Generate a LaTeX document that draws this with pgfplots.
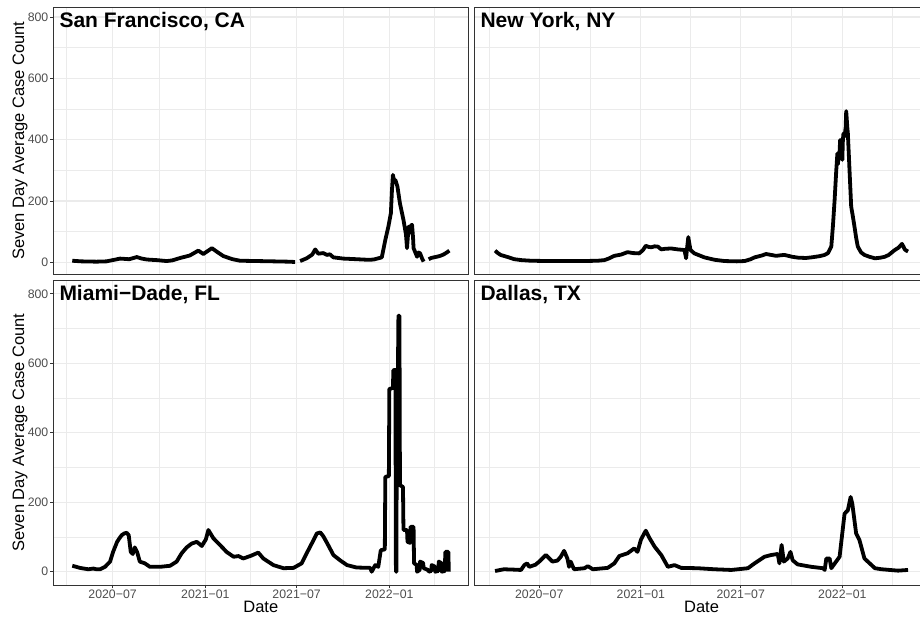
\documentclass[border=0pt]{standalone}
\usepackage{fontspec}
\setmainfont{Liberation Sans}
\usepackage{pgfplots}
\pgfplotsset{compat=1.18}
\definecolor{gridc}{HTML}{EBEBEB}
\definecolor{framec}{HTML}{333333}
\definecolor{ticklab}{HTML}{4D4D4D}
\pgfplotsset{
  panel/.style={
    scale only axis,
    xmin=64.4, xmax=887.6,
    axis line style={framec, line width=0.9pt},
    grid=both,
    major grid style={gridc, line width=1.1pt},
    minor grid style={gridc, line width=0.6pt},
    xtick={182,366,547,731},
    minor xtick={91,274,456,639,821},
    ytick={0,200,400,600,800},
    minor ytick={100,300,500,700},
    tick align=outside,
    major tick length=3.3pt,
    minor tick length=0pt,
    tick pos=left,
    major tick style={framec, line width=0.9pt},
    /pgf/number format/assume math mode=true,
    yticklabel style={font=\fontsize{12.3}{14}\selectfont, text=ticklab, inner sep=1.5pt},
    xticklabel style={font=\fontsize{12.3}{14}\selectfont, text=ticklab, inner sep=1.5pt},
    ylabel style={font=\fontsize{16.5}{19}\selectfont, at={(axis description cs:-0.08,0.5)}, anchor=center},
    xlabel style={font=\fontsize{16.5}{19}\selectfont, at={(axis description cs:0.5,-0.0918)}, anchor=base},
    unbounded coords=jump,
  },
  series/.style={black, no markers, line width=3.8pt, line join=round},
  toprow/.style={ymin=-38.2, ymax=831.6, height=266.7pt, xmajorticks=false, xticklabels={}},
  botrow/.style={ymin=-38.3, ymax=839.7, height=305pt, xticklabels={2020−07,2021−01,2021−07,2022−01}, xlabel={Date}},
  leftcol/.style={width=415pt, ylabel={Seven Day Average Case Count}},
  rightcol/.style={width=454.5pt, ymajorticks=false, yticklabels={}},
}
\newcommand{\paneltitle}[1]{\node[anchor=north west, inner sep=0pt, font=\bfseries\fontsize{21}{24}\selectfont] at (rel axis cs:0,1) [xshift=6pt, yshift=-4.7pt] {#1};}

\begin{document}
\begin{tikzpicture}
\useasboundingbox (0pt,0pt) rectangle (920pt,620pt);
\clip (0pt,0pt) rectangle (920pt,620pt);

% San Francisco
\begin{axis}[panel, toprow, leftcol, at={(53.3pt,346pt)}, anchor=south west]
\addplot[series] table {
x y
102 5
120 3
150 2
170 3
185 8
197 12
215 10
230 17
240 12
250 9
270 7
289 4
300 6
316 14
335 22
352 38
362 27
370 36
379 46
390 33
402 20
420 10
435 5
470 4
501 3
530 2
544 1
nan nan
554 4
567 13
578 25
584 42
590 28
600 30
607 24
613 26
620 16
640 12
666 10
690 8
700 9
716 16
723 73
729 116
734 160
736 230
738 285
741 262
743 268
747 247
752 192
759 138
764 90
766 46
768 90
769 116
771 95
772 105
774 120
776 122
778 80
779 46
783 30
786 18
789 32
792 29
796 12
799 2
nan nan
809 10
814 14
819 16
825 18
832 21
838 25
845 32
850 38
};
\paneltitle{San Francisco, CA}
\end{axis}

% New York
\begin{axis}[panel, toprow, rightcol, at={(474.3pt,346pt)}, anchor=south west]
\addplot[series] table {
x y
102 38
107 30
112 24
125 17
137 10
150 7
167 5
200 4
227 4
260 4
288 5
300 7
309 13
318 21
330 25
342 33
352 30
363 29
370 40
375 54
380 50
385 49
391 52
397 51
403 42
410 44
421 45
433 42
445 40
448 13
450 50
452 82
454 60
456 40
463 29
470 24
481 16
500 8
518 4
540 3
554 4
565 10
572 16
585 22
593 27
602 24
611 21
620 23
626 24
640 18
651 15
665 14
675 16
690 20
699 24
705 30
711 51
714 120
717 203
720 300
722 355
723 320
724 345
726 360
727 399
729 360
731 334
732 400
733 420
735 410
737 440
738 493
740 440
741 420
744 300
747 182
750 150
753 116
756 80
759 51
765 32
771 24
780 18
790 13
800 15
808 18
815 24
826 40
833 48
839 60
842 50
844 42
847 38
850 35
};
\paneltitle{New York, NY}
\end{axis}

% Miami-Dade
\begin{axis}[panel, botrow, leftcol, at={(53.3pt,35pt)}, anchor=south west]
\addplot[series] table {
x y
102 17
110 14
117 11
125 9
134 7
144 9
150 7
157 7
167 14
177 29
183 57
191 86
195 95
200 105
205 110
210 112
214 105
218 57
222 51
226 70
231 55
236 29
246 24
256 14
276 14
296 17
309 29
319 53
329 70
339 81
349 86
359 74
367 93
372 120
382 96
395 77
408 57
422 43
432 45
441 38
455 45
471 55
481 38
501 19
521 10
541 11
557 24
567 53
577 81
587 110
594 113
600 102
608 81
620 48
633 33
647 19
666 12
693 11
696 0
703 19
709 14
714 62
722 64
723 273
730 275
731 526
738 529
739 580
743 581
744 0
745 0
746 579
748 579
749 737
751 737
752 249
758 244
759 120
766 120
767 86
772 83
773 129
779 129
780 24
785 20
786 0
791 5
792 29
798 25
799 10
808 5
809 0
814 2
815 19
821 15
822 0
828 2
829 29
834 25
835 0
841 2
842 57
848 57
849 0
};
\paneltitle{Miami−Dade, FL}
\end{axis}

% Dallas
\begin{axis}[panel, botrow, rightcol, at={(474.3pt,35pt)}, anchor=south west]
\addplot[series] table {
x y
102 2
118 7
135 6
149 5
155 19
160 24
164 14
175 20
182 29
194 48
206 29
215 32
221 43
227 60
233 38
236 14
239 29
245 7
264 10
270 16
279 7
306 11
318 24
327 45
342 53
354 67
360 57
366 91
372 110
375 118
382 96
391 72
403 48
415 14
427 19
439 11
469 10
499 7
530 5
560 10
572 24
590 43
602 48
614 51
617 24
621 77
625 29
632 38
637 57
641 33
650 21
675 14
696 10
699 5
702 38
708 38
711 10
726 43
735 167
741 177
746 215
749 196
756 110
762 91
771 38
790 10
802 7
832 3
850 5
};
\paneltitle{Dallas, TX}
\end{axis}
\end{tikzpicture}
\end{document}
